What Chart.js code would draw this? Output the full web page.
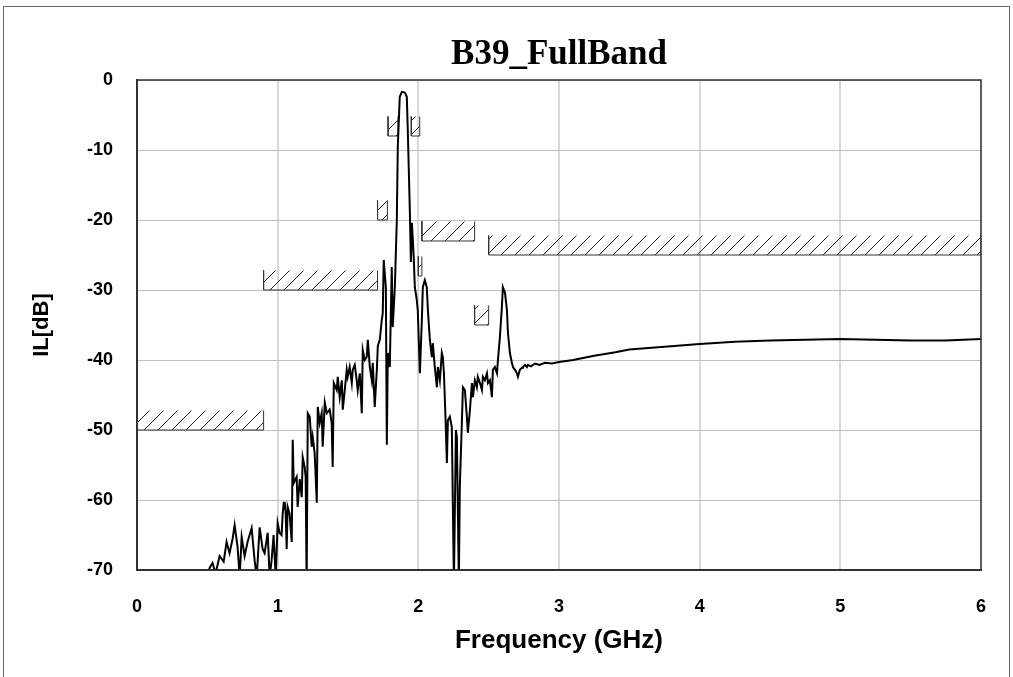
<!DOCTYPE html>
<html>
<head>
<meta charset="utf-8">
<title>B39_FullBand</title>
<script src="https://cdn.jsdelivr.net/npm/chart.js@4.4.1/dist/chart.umd.min.js"></script>
<style>
    html, body { margin: 0; padding: 0; background: #fff; overflow: hidden; }
    #wrap { position: relative; width: 1013px; height: 677px; }
</style>
</head>
<body>
<div id="wrap"><canvas id="ilChart"></canvas></div>
<script>
const freqGHz = [
    0.500, 0.516, 0.537, 0.559, 0.587, 0.616, 0.637, 0.658, 0.680, 0.694,
    0.715, 0.730, 0.744, 0.765, 0.786, 0.815, 0.836, 0.851, 0.872, 0.893,
    0.907, 0.929, 0.943, 0.957, 0.971, 0.986, 1.000, 1.014, 1.028, 1.036,
    1.043, 1.050, 1.057, 1.064, 1.071, 1.085, 1.100, 1.107, 1.114, 1.135,
    1.142, 1.157, 1.171, 1.178, 1.192, 1.199, 1.206, 1.214, 1.228, 1.242,
    1.249, 1.263, 1.278, 1.285, 1.299, 1.313, 1.320, 1.335, 1.349, 1.370,
    1.384, 1.391, 1.399, 1.420, 1.427, 1.441, 1.456, 1.463, 1.477, 1.491,
    1.498, 1.512, 1.527, 1.534, 1.548, 1.562, 1.569, 1.584, 1.598, 1.605,
    1.619, 1.633, 1.641, 1.655, 1.669, 1.676, 1.690, 1.705, 1.712, 1.726,
    1.740, 1.747, 1.754, 1.769, 1.776, 1.783, 1.797, 1.811, 1.818, 1.833,
    1.847, 1.854, 1.868, 1.883, 1.904, 1.918, 1.925, 1.940, 1.947, 1.954,
    1.961, 1.968, 1.975, 1.989, 1.996, 2.011, 2.025, 2.032, 2.046, 2.060,
    2.068, 2.082, 2.096, 2.103, 2.117, 2.132, 2.139, 2.153, 2.167, 2.174,
    2.182, 2.192, 2.203, 2.210, 2.224, 2.238, 2.253, 2.267, 2.274, 2.288,
    2.295, 2.310, 2.317, 2.331, 2.345, 2.352, 2.367, 2.381, 2.388, 2.402,
    2.416, 2.423, 2.438, 2.452, 2.459, 2.473, 2.488, 2.495, 2.509, 2.523,
    2.530, 2.544, 2.559, 2.566, 2.580, 2.594, 2.601, 2.616, 2.630, 2.637,
    2.651, 2.665, 2.673, 2.687, 2.701, 2.708, 2.722, 2.737, 2.744, 2.758,
    2.772, 2.779, 2.800, 2.830, 2.860, 2.900, 2.950, 3.000, 3.100, 3.250,
    3.400, 3.500, 3.750, 4.000, 4.250, 4.500, 4.750, 5.000, 5.250, 5.500,
    5.750, 6.000
];
const ilDb = [
    -71.0, -69.7, -69.0, -70.5, -68.0, -68.8, -66.0, -67.6, -65.5, -63.6,
    -66.7, -71.0, -65.3, -68.0, -66.0, -64.0, -68.6, -71.0, -63.9, -67.0,
    -67.6, -64.7, -71.0, -68.6, -65.0, -71.0, -63.3, -64.7, -65.0, -61.9,
    -60.4, -60.4, -61.9, -67.0, -61.0, -62.0, -66.0, -51.4, -57.6, -56.7,
    -61.0, -57.0, -59.6, -53.9, -55.3, -56.7, -72.0, -47.6, -48.1, -52.4,
    -51.0, -53.3, -60.4, -46.7, -49.0, -47.6, -52.4, -46.1, -47.6, -47.1,
    -49.0, -55.3, -43.3, -44.3, -42.4, -45.3, -42.9, -47.1, -44.3, -41.4,
    -42.4, -41.0, -43.3, -41.4, -40.7, -42.9, -44.3, -41.9, -47.6, -38.6,
    -40.0, -39.6, -37.1, -41.0, -42.9, -40.4, -46.7, -41.4, -38.0, -37.1,
    -34.3, -33.3, -25.7, -29.6, -52.1, -39.0, -41.0, -26.7, -35.3, -29.6,
    -20.0, -9.5, -2.4, -1.7, -1.8, -2.4, -7.1, -19.0, -26.0, -20.4,
    -22.9, -25.7, -29.6, -31.4, -32.9, -41.9, -34.3, -29.6, -28.6, -29.6,
    -32.9, -37.1, -39.6, -37.6, -41.0, -43.9, -41.0, -42.9, -39.0, -39.6,
    -41.9, -47.6, -54.7, -48.6, -48.1, -49.6, -72.0, -50.0, -51.0, -72.0,
    -58.0, -48.6, -43.9, -44.3, -48.1, -50.4, -47.1, -43.3, -45.3, -42.9,
    -43.9, -42.4, -43.3, -44.3, -42.4, -42.9, -41.9, -43.3, -42.9, -45.3,
    -41.4, -41.0, -41.9, -40.0, -36.7, -32.4, -29.6, -30.4, -32.9, -36.1,
    -39.0, -40.4, -41.0, -41.4, -41.9, -42.4, -41.4, -41.1, -41.0, -40.7,
    -41.0, -40.7, -40.9, -40.5, -40.7, -40.4, -40.5, -40.3, -40.0, -39.4,
    -38.9, -38.5, -38.1, -37.7, -37.4, -37.2, -37.1, -37.0, -37.1, -37.2,
    -37.2, -37.0
];

// Spec mask boxes: start / end frequency (GHz) and limit level (dB)
const maskStart = [0, 0.9, 1.71, 1.785, 1.95, 2.0, 2.025, 2.4, 2.5];
const maskEnd = [0.9, 1.71, 1.78, 1.855, 2.01, 2.025, 2.4, 2.5, 6];
const maskLevel = [-50, -30, -20, -8, -8, -28, -23, -35, -25];

const xTicks = [0, 1, 2, 3, 4, 5, 6];
const yTicks = [0, -10, -20, -30, -40, -50, -60, -70];

const HATCH_DEPTH = 2.8; // dB drawn above each limit line

function makeHatch() {
    const c = document.createElement('canvas');
    c.width = 14;
    c.height = 14;
    const g = c.getContext('2d');
    g.strokeStyle = '#222';
    g.lineWidth = 1;
    g.beginPath();
    g.moveTo(0, 14); g.lineTo(14, 0);
    g.moveTo(-1, 1); g.lineTo(1, -1);
    g.moveTo(13, 15); g.lineTo(15, 13);
    g.stroke();
    return g.createPattern(c, 'repeat');
}

// Outer frame and plot border
const framePlugin = {
    id: 'frame',
    beforeDraw(chart) {
        const ctx = chart.ctx;
        ctx.save();
        ctx.fillStyle = '#fff';
        ctx.fillRect(0, 0, chart.width, chart.height);
        ctx.restore();
    },
    afterDraw(chart) {
        const ctx = chart.ctx;
        const a = chart.chartArea;
        ctx.save();
        ctx.strokeStyle = '#666';
        ctx.lineWidth = 1;
        ctx.strokeRect(3.5, 6.5, 1006, 700);
        ctx.strokeStyle = '#333';
        ctx.lineWidth = 1.5;
        ctx.strokeRect(a.left, a.top, a.right - a.left, a.bottom - a.top);
        ctx.restore();
    }
};

function createChart() {
    const ctx = document.getElementById('ilChart');
    const hatch = makeHatch();

    const maskSets = maskLevel.map((lvl, i) => ({
        data: [
            { x: maskStart[i], y: lvl + HATCH_DEPTH },
            { x: maskStart[i], y: lvl },
            { x: maskEnd[i], y: lvl },
            { x: maskEnd[i], y: lvl + HATCH_DEPTH }
        ],
        borderColor: '#333',
        borderWidth: 1,
        backgroundColor: hatch,
        fill: 'shape',
        pointRadius: 0,
        tension: 0,
        order: 1
    }));

    const ilSet = {
        data: freqGHz.map((f, i) => ({ x: f, y: ilDb[i] })),
        borderColor: '#000',
        borderWidth: 2,
        pointRadius: 0,
        fill: false,
        tension: 0,
        order: 0
    };

    new Chart(ctx, {
        type: 'line',
        data: { datasets: [ilSet, ...maskSets] },
        plugins: [framePlugin],
        options: {
            responsive: true,
            maintainAspectRatio: false,
            animation: false,
            layout: { padding: { left: 0, right: 32, top: 0, bottom: 0 } },
            plugins: {
                legend: { display: false },
                tooltip: { enabled: false },
                title: {
                    display: true,
                    fullSize: false,
                    text: 'B39_FullBand',
                    color: '#000',
                    font: { family: 'Liberation Serif', size: 35, weight: 'bold' },
                    padding: { top: 34, bottom: 4 }
                }
            },
            scales: {
                x: {
                    type: 'linear',
                    min: 0,
                    max: 6,
                    afterBuildTicks: s => { s.ticks = xTicks.map(v => ({ value: v })); },
                    afterFit: s => { s.height = 107; },
                    ticks: {
                        color: '#000',
                        padding: 26,
                        maxRotation: 0,
                        font: { family: 'Liberation Sans', size: 18, weight: 'bold' }
                    },
                    grid: { color: '#d9d9d9', lineWidth: 2, drawTicks: false },
                    border: { display: true, color: '#333', width: 2 },
                    title: {
                        display: true,
                        text: 'Frequency (GHz)',
                        color: '#000',
                        font: { family: 'Liberation Sans', size: 26, weight: 'bold' },
                        padding: { top: 0, bottom: 21 }
                    }
                },
                y: {
                    min: -70,
                    max: 0,
                    afterBuildTicks: s => { s.ticks = yTicks.map(v => ({ value: v })); },
                    afterFit: s => { s.width = 137; },
                    ticks: {
                        color: '#000',
                        padding: 24,
                        font: { family: 'Liberation Sans', size: 18, weight: 'bold' }
                    },
                    grid: { color: '#c0c0c0', lineWidth: 1, drawTicks: false },
                    border: { display: true, color: '#333', width: 2 },
                    title: {
                        display: true,
                        text: 'IL[dB]',
                        color: '#000',
                        font: { family: 'Liberation Sans', size: 22, weight: 'bold' },
                        padding: { top: 29, bottom: 0 }
                    }
                }
            }
        }
    });
}

document.addEventListener('DOMContentLoaded', createChart);
</script>
</body>
</html>
